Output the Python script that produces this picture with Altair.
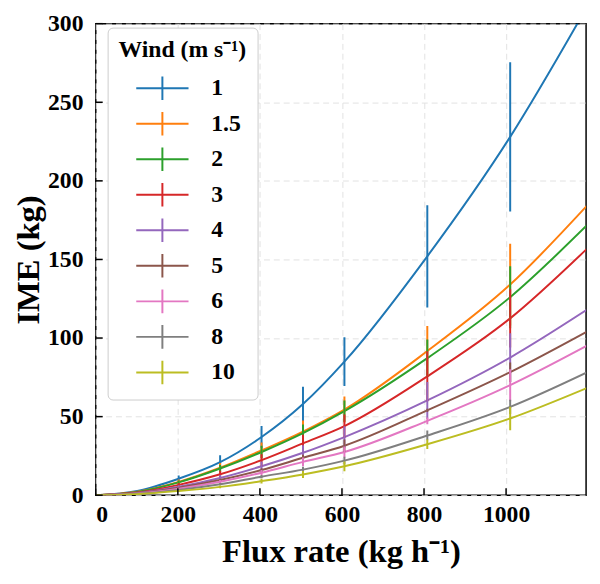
import altair as alt
import pandas as pd

# flux rate grid (kg/h) where the fitted curves were read
flux = [0, 101, 202, 303, 404, 505, 606, 808, 1010, 1200]
# flux rates that carry error bars
bar_flux = [202, 303, 404, 505, 606, 808, 1010]

winds = ["1", "1.5", "2", "3", "4", "5", "6", "8", "10"]
colors = ["#1f77b4", "#ff7f0e", "#2ca02c", "#d62728", "#9467bd",
          "#8c564b", "#e377c2", "#7f7f7f", "#bcbd22"]

# IME (kg) on the curve at each flux value
ime_1 = [0, 2.7, 10.5, 21, 37, 58, 85, 152, 228, 312]
ime_15 = [0, 2.2, 8.5, 17.5, 28.5, 40.5, 54.5, 91.7, 134, 185]
ime_2 = [0, 2.1, 8.2, 17, 27.5, 39.5, 53.5, 87.2, 126, 172.5]
ime_3 = [0, 1.7, 6.6, 13.3, 22.3, 33, 44, 75.6, 112.5, 157.5]
ime_4 = [0, 1.4, 5.4, 11, 18.4, 27, 37, 60.3, 87.6, 118.5]
ime_5 = [0, 1.25, 4.8, 9.7, 16, 23.8, 31.5, 54, 78.3, 104.5]
ime_6 = [0, 1.1, 4.2, 8.6, 14.3, 21.2, 27.5, 47.3, 70, 95.5]
ime_8 = [0, 0.9, 3.4, 7, 11.8, 16.3, 22, 38, 56.2, 78.5]
ime_10 = [0, 0.7, 2.7, 5.3, 9, 13.2, 18.4, 32.4, 48.8, 68.5]

# half length of the error bars at bar_flux
err_1 = [2, 4.5, 7, 11, 15.5, 32.5, 47.5]
err_15 = [1.5, 3, 5, 7, 8.3, 16, 26]
err_2 = [1.2, 2.3, 4, 5.5, 6.8, 11.8, 19.7]
err_3 = [1.2, 2.3, 3.8, 5.5, 7.3, 16, 18.6]
err_4 = [1, 1.8, 3, 4.8, 6.8, 11.8, 15.5]
err_5 = [0.5, 0.8, 1.2, 2, 4, 1, 6.2]
err_6 = [0.6, 1.1, 1.8, 2.8, 3.5, 2.1, 10.2]
err_8 = [0.4, 0.7, 1, 1.8, 2.5, 3.1, 4.5]
err_10 = [0.5, 0.9, 1.5, 2.2, 3.1, 3, 7.5]

x_ticks = [0, 200, 400, 600, 800, 1000]
y_ticks = [0, 50, 100, 150, 200, 250, 300]

ime = [ime_1, ime_15, ime_2, ime_3, ime_4, ime_5, ime_6, ime_8, ime_10]
err = [err_1, err_15, err_2, err_3, err_4, err_5, err_6, err_8, err_10]

rows = []
bar_rows = []
for k, w in enumerate(winds):
    for f, v in zip(flux, ime[k]):
        rows.append({"wind": w, "k": k, "flux": f, "ime": v})
    centers = dict(zip(flux, ime[k]))
    for f, e in zip(bar_flux, err[k]):
        bar_rows.append({"wind": w, "k": k, "flux": f,
                         "lo": centers[f] - e, "hi": centers[f] + e})
df = pd.DataFrame(rows)
df_bar = pd.DataFrame(bar_rows)

W, H = 497, 478
SERIF = "Liberation Serif"
xs = alt.Scale(domain=[0, 1195], nice=False, zero=False)
ys = alt.Scale(domain=[0, 300], nice=False)

legend = alt.Legend(
    title="Wind (m s⁻¹)", orient="none", legendX=12, legendY=4,
    symbolType="M-2,0H2M0,-0.9V0.9", symbolSize=702, symbolStrokeWidth=2,
    symbolOffset=30, labelOffset=35, rowPadding=3,
    titleFont=SERIF, titleFontSize=24, titleFontWeight="bold", titleColor="black",
    titlePadding=12,
    labelFont=SERIF, labelFontSize=24, labelFontWeight="bold", labelColor="black",
    padding=11, strokeColor="#cccccc", cornerRadius=5, fillColor="white",
)
color = alt.Color("wind:N", sort=winds,
                  scale=alt.Scale(domain=winds, range=colors), legend=legend)

x_axis = alt.Axis(values=x_ticks, format="d", title="Flux rate (kg h⁻¹)", grid=True,
                  ticks=False, domain=False, labelPadding=8, titlePadding=9)
y_axis = alt.Axis(values=y_ticks, title="IME (kg)", grid=True,
                  ticks=False, domain=False, labelPadding=13, titlePadding=2)

curves = alt.Chart(df).mark_line(strokeWidth=2, clip=True,
                                 interpolate="monotone").encode(
    x=alt.X("flux:Q", scale=xs, axis=x_axis),
    y=alt.Y("ime:Q", scale=ys, axis=y_axis),
    color=color,
    order="k:Q",
)

bars = alt.Chart(df_bar).mark_rule(strokeWidth=2, clip=True).encode(
    x=alt.X("flux:Q", scale=xs, axis=x_axis),
    y=alt.Y("lo:Q", scale=ys, axis=y_axis),
    y2="hi:Q",
    color=color,
)

xt = alt.Chart(pd.DataFrame({"t": x_ticks})).mark_rule(
    color="black", strokeWidth=1.5).encode(
    x=alt.X("t:Q", scale=xs, axis=x_axis),
    y=alt.value(H), y2=alt.value(H - 7),
)
yt = alt.Chart(pd.DataFrame({"t": y_ticks})).mark_rule(
    color="black", strokeWidth=1.5).encode(
    y=alt.Y("t:Q", scale=ys, axis=y_axis),
    x=alt.value(0), x2=alt.value(7),
)

chart = alt.layer(curves, bars, xt, yt).properties(
    width=W, height=H,
    background="white",
    autosize=alt.AutoSizeParams(type="none"),
    padding={"left": 89, "top": 12, "right": 6, "bottom": 78},
).configure_view(
    stroke="black", strokeWidth=1.5,
).configure_axis(
    labelFont=SERIF, labelFontSize=24, labelFontWeight="bold", labelColor="black",
    titleFont=SERIF, titleFontSize=33, titleFontWeight="bold", titleColor="black",
    gridColor="#e2e2e2", gridDash=[6, 4], gridWidth=1,
)

chart.save("out.html", embed_options={"renderer": "svg", "actions": False})
